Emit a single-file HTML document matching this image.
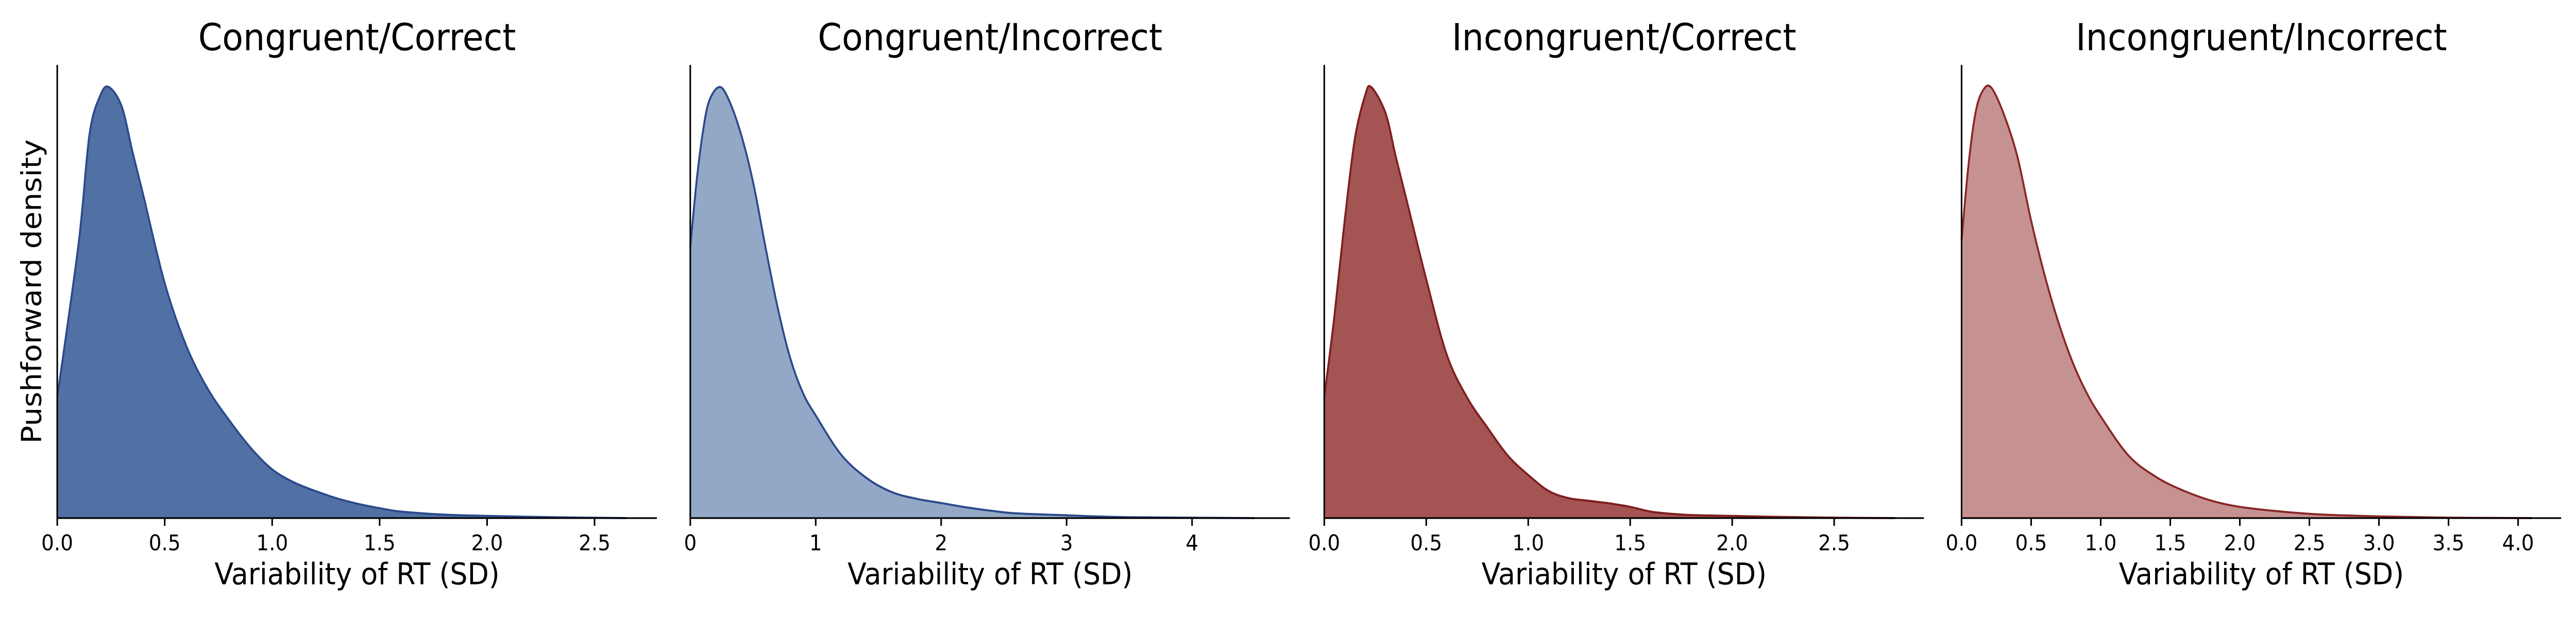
<!DOCTYPE html>
<html><head><meta charset="utf-8"><style>
html,body{margin:0;padding:0;background:#fff;overflow:hidden;width:100%;height:100%;}
svg{display:block;position:absolute;left:0;top:0;width:100vw;height:100vh;}
text{font-family:"DejaVu Sans","Liberation Sans",sans-serif;fill:#000;}
</style></head><body>
<svg id="chart" viewBox="0 0 5400 1200" preserveAspectRatio="none" xmlns="http://www.w3.org/2000/svg">
<text x="70" y="566" font-size="58" text-anchor="middle" dominant-baseline="middle" transform="rotate(-90 70 566)">Pushforward density</text>
</svg>
<script>
const panelTitles = ["Congruent/Correct","Congruent/Incorrect","Incongruent/Correct","Incongruent/Incorrect"];
const xMaxes = [2.79, 4.78, 2.94, 4.31];
const tickLabels1 = ["0.0","0.5","1.0","1.5","2.0","2.5"];
const tickLabels2 = ["0","1","2","3","4"];
const tickLabels3 = ["0.0","0.5","1.0","1.5","2.0","2.5"];
const tickLabels4 = ["0.0","0.5","1.0","1.5","2.0","2.5","3.0","3.5","4.0"];
const xs1 = [0,0.1,0.15,0.2,0.24,0.3,0.35,0.4,0.5,0.6,0.7,0.8,0.9,1.0,1.1,1.2,1.3,1.4,1.5,1.6,1.8,2.0,2.3,2.65];
const ys1 = [0.28,0.64,0.89,0.98,1.0,0.955,0.85,0.75,0.545,0.40,0.30,0.227,0.163,0.113,0.083,0.063,0.046,0.033,0.023,0.015,0.008,0.005,0.002,0];
const xs2 = [0,0.05,0.1,0.15,0.23,0.3,0.4,0.5,0.6,0.7,0.8,0.9,1.0,1.2,1.4,1.6,1.8,2.0,2.2,2.4,2.6,3.0,3.5,4.5];
const ys2 = [0.628,0.78,0.895,0.967,1.0,0.975,0.895,0.78,0.628,0.484,0.368,0.289,0.238,0.148,0.094,0.061,0.045,0.035,0.025,0.017,0.011,0.0065,0.002,0];
const xs3 = [0,0.05,0.1,0.15,0.2,0.23,0.3,0.35,0.4,0.5,0.6,0.7,0.8,0.9,1.0,1.1,1.2,1.3,1.4,1.5,1.6,1.7,1.8,2.0,2.2,2.5,2.8];
const ys3 = [0.28,0.47,0.69,0.88,0.98,1.0,0.94,0.84,0.745,0.554,0.38,0.28,0.21,0.145,0.10,0.063,0.046,0.04,0.034,0.026,0.015,0.01,0.007,0.005,0.003,0.001,0];
const xs4 = [0,0.05,0.1,0.15,0.21,0.3,0.4,0.5,0.6,0.7,0.8,0.9,1.0,1.2,1.4,1.6,1.8,2.0,2.3,2.6,3.0,3.5,4.1];
const ys4 = [0.645,0.82,0.94,0.99,1.0,0.94,0.84,0.69,0.56,0.45,0.36,0.29,0.236,0.145,0.095,0.063,0.04,0.026,0.015,0.008,0.004,0.001,0];

const allTicks=[tickLabels1,tickLabels2,tickLabels3,tickLabels4];
const allXs=[xs1,xs2,xs3,xs4], allYs=[ys1,ys2,ys3,ys4];
const fills=["#5171a5","#93a8c6","#a35453","#c69291"];
const strokes=["#2b4a8b","#2b4a8b","#7e1e1e","#8b2626"];
const lefts=[120,1447,2776,4112];
const W=1257, TOP=126, BASE=1006, PEAK=169;
const NS="http://www.w3.org/2000/svg";
const svg=document.getElementById('chart');
function mk(tag,attrs,parent){const e=document.createElementNS(NS,tag);for(const k in attrs)e.setAttribute(k,attrs[k]);(parent||svg).appendChild(e);return e;}

for(let p=0;p<4;p++){
  const x0=lefts[p], xmax=xMaxes[p];
  const sx=v=>x0+v/xmax*W;
  const sy=v=>BASE-v*(BASE-PEAK);
  const g=mk('g',{});
  
  
  const xs=allXs[p], ys=allYs[p];
  const pts=xs.map((v,i)=>[sx(v),sy(ys[i])]);
  let d='M'+pts[0][0].toFixed(1)+','+pts[0][1].toFixed(1);
  for(let i=0;i<pts.length-1;i++){
    const p0=pts[Math.max(i-1,0)],p1=pts[i],p2=pts[i+1],p3=pts[Math.min(i+2,pts.length-1)];
    const c1=[p1[0]+(p2[0]-p0[0])/6,p1[1]+(p2[1]-p0[1])/6];
    const c2=[p2[0]-(p3[0]-p1[0])/6,p2[1]-(p3[1]-p1[1])/6];
    d+=' C'+c1[0].toFixed(1)+','+Math.min(c1[1],BASE).toFixed(1)+' '+c2[0].toFixed(1)+','+Math.min(c2[1],BASE).toFixed(1)+' '+p2[0].toFixed(1)+','+p2[1].toFixed(1);
  }
  const area=mk('path',{d:d+' L'+pts[pts.length-1][0]+','+BASE+' L'+pts[0][0]+','+BASE+' Z',fill:fills[p],stroke:'none'},g);
  
  
  const line=mk('path',{d:d,fill:'none',stroke:strokes[p],'stroke-width':4},g);
  
  
  const ya=mk('line',{x1:x0,y1:TOP,x2:x0,y2:BASE,stroke:'#000','stroke-width':3.3},g);
  
  
  const xa=mk('line',{x1:x0-1.6,y1:BASE,x2:x0+W,y2:BASE,stroke:'#000','stroke-width':3.3},g);
  
  
  allTicks[p].forEach(t=>{
    const tx=sx(parseFloat(t));
    const tk=mk('line',{x1:tx,y1:BASE,x2:tx,y2:BASE+15,stroke:'#000','stroke-width':3.3},g);
    
    
    const tl=mk('text',{x:tx,y:1057,'font-size':42,'text-anchor':'middle','dominant-baseline':'middle'},g);
    tl.textContent=t;
    
    
  });
  const xl=mk('text',{x:x0+W/2,y:1119,'font-size':58,'text-anchor':'middle','dominant-baseline':'middle'},g);
  xl.textContent='Variability of RT (SD)';
  
  
  const tt=mk('text',{x:x0+W/2,y:78,'font-size':72,'text-anchor':'middle','dominant-baseline':'middle'},g);
  tt.textContent=panelTitles[p];
  
  
}
</script>
</body></html>
